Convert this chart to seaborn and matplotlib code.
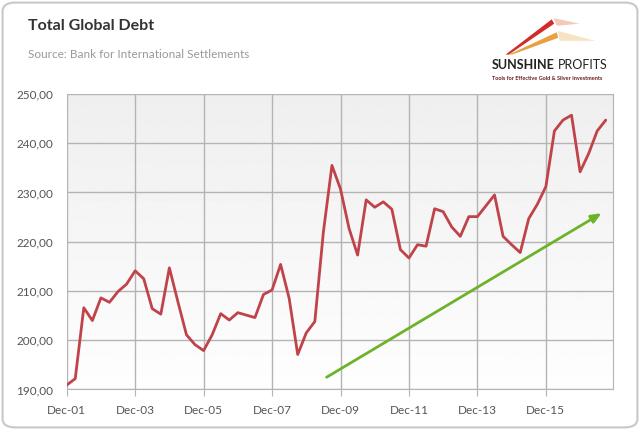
import numpy as np
import pandas as pd
import matplotlib.pyplot as plt
import seaborn as sns
from matplotlib.patches import FancyBboxPatch, Polygon

# quarterly total global debt (% of GDP), Dec-01 .. Sep-17
debt = [190.9, 192.2, 206.6, 204.0, 208.6, 207.7, 209.9, 211.4,
        214.1, 212.5, 206.4, 205.3, 214.7, 207.8, 201.1, 199.1,
        197.9, 201.1, 205.4, 204.1, 205.6, 205.1, 204.6, 209.3,
        210.2, 215.4, 208.5, 197.1, 201.5, 203.8, 222.0, 235.5,
        230.7, 222.7, 217.3, 228.5, 227.0, 228.1, 226.6, 218.4,
        216.7, 219.4, 219.1, 226.7, 226.1, 223.0, 221.1, 225.1,
        225.1, 227.3, 229.5, 221.1, 219.4, 217.8, 224.7, 227.6,
        231.2, 242.5, 244.7, 245.7, 234.2, 237.9, 242.5, 244.7]
tick_labels = ['Dec-01', 'Dec-03', 'Dec-05', 'Dec-07', 'Dec-09', 'Dec-11', 'Dec-13', 'Dec-15']
y_ticks = [190, 200, 210, 220, 230, 240, 250]
trend_start = (30.1, 192.2)
trend_end = (62.8, 226.1)

df = pd.DataFrame({'q': np.arange(len(debt)), 'debt': debt})

sns.set_style('white')
plt.rcParams['font.family'] = ['Lato', 'DejaVu Sans']

fig = plt.figure(figsize=(6.4, 4.3), dpi=100)
ax = fig.add_axes([0.1042, 0.0942, 0.853, 0.6872])

# rounded frame around the whole picture
fig.patches.append(FancyBboxPatch((0.004, 0.006), 0.992, 0.988, boxstyle='round,pad=0,rounding_size=0.02',
                                  transform=fig.transFigure, fc='white', ec='#c8c8c8', lw=1.5, zorder=-10))

# gradient background of plot area
grad = np.linspace(0.935, 0.995, 256).reshape(-1, 1)
ax.imshow(grad, cmap='gray', vmin=0, vmax=1, aspect='auto', extent=[0, 1, 0, 1],
          transform=ax.transAxes, zorder=0, origin='upper')

sns.lineplot(data=df, x='q', y='debt', color='#c0434a', lw=2, ax=ax, zorder=3)

ax.annotate('', xy=trend_end, xytext=trend_start,
            arrowprops=dict(arrowstyle='-|>,head_length=0.6,head_width=0.25', color='#6db32a', lw=2),
            zorder=4)

ax.set_xlim(0, 63.8)
ax.set_ylim(190, 250)
ax.set_xticks(np.arange(len(tick_labels)) * 8)
ax.set_xticklabels(tick_labels)
ax.set_yticks(y_ticks)
ax.set_yticklabels([f'{v:.2f}'.replace('.', ',') for v in y_ticks])
ax.set_xlabel('')
ax.set_ylabel('')
ax.grid(True, color='#b4b4b4', lw=1, zorder=1)
ax.set_axisbelow(True)
for s in ax.spines.values():
    s.set_visible(False)
ax.spines['bottom'].set_visible(True)
ax.spines['bottom'].set_color('#b4b4b4')
ax.spines['right'].set_visible(True)
ax.spines['right'].set_color('#b4b4b4')
ax.tick_params(axis='x', bottom=True, length=5, color='#b4b4b4', colors='#555555', labelsize=8.5, pad=6)
ax.tick_params(axis='y', left=False, colors='#555555', labelsize=8.5, pad=6)

fig.text(0.044, 0.955, 'Total Global Debt', fontsize=11.5, fontweight='bold', color='#333333', va='top')
fig.text(0.044, 0.885, 'Source: Bank for International Settlements', fontsize=8.5, color='#999999', va='top')

# logo
fig.patches.append(Polygon([[0.790, 0.873], [0.862, 0.955], [0.866, 0.945], [0.795, 0.873]],
                           closed=True, transform=fig.transFigure, fc='#d42a2a', ec='none'))
fig.patches.append(Polygon([[0.795, 0.873], [0.870, 0.925], [0.872, 0.912], [0.800, 0.873]],
                           closed=True, transform=fig.transFigure, fc='#e8a040', ec='none'))
fig.patches.append(Polygon([[0.865, 0.958], [0.905, 0.945], [0.870, 0.940]],
                           closed=True, transform=fig.transFigure, fc='#f3c9b8', ec='none'))
fig.patches.append(Polygon([[0.872, 0.928], [0.93, 0.905], [0.874, 0.905]],
                           closed=True, transform=fig.transFigure, fc='#f6e3c4', ec='none'))
fig.text(0.768, 0.862, 'SUNSHINE', fontsize=9, fontweight='bold', color='#222222', va='top')
fig.text(0.871, 0.862, 'PROFITS', fontsize=9, color='#222222', va='top')
fig.text(0.769, 0.823, 'Tools for Effective Gold & Silver Investments', fontsize=4.0, fontweight='bold',
         color='#6b1a1a', va='top')

fig.savefig('out.png', dpi=100)
